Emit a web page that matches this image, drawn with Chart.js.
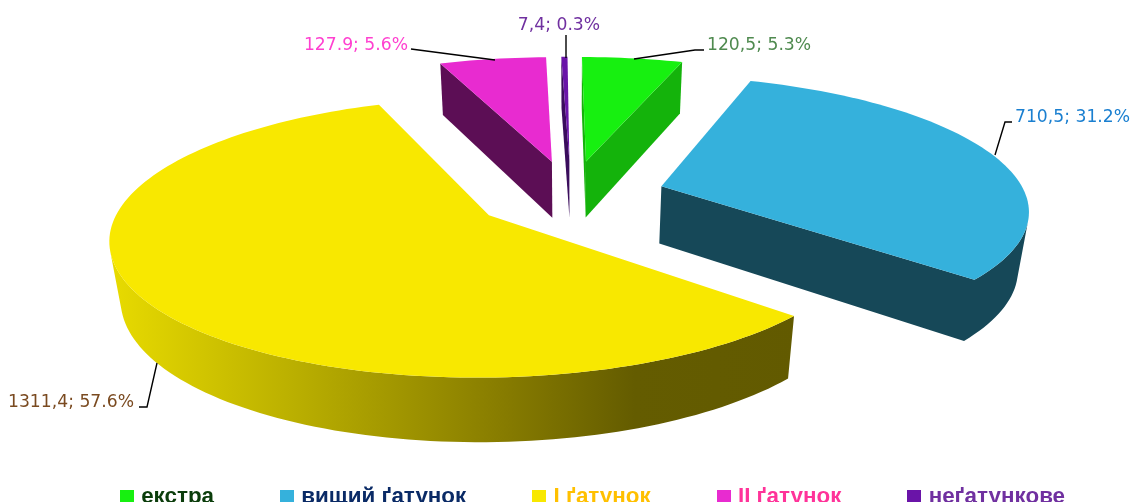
<!DOCTYPE html>
<html>
<head>
<meta charset="utf-8">
<style>html,body{margin:0;padding:0;background:#fff;overflow:hidden;width:1132px;height:502px}canvas{display:block}</style>
<script src="https://cdn.jsdelivr.net/npm/chart.js@4"></script>
</head>
<body>
<canvas id="c" width="1189" height="518"></canvas>
<script>
const categories = ['екстра', 'вищий ґатунок', 'І ґатунок', 'ІІ ґатунок', 'неґатункове'];
const values = [120.5, 710.5, 1311.4, 127.9, 7.4];
const valueLabels = ['120,5; 5.3%', '710,5; 31.2%', '1311,4; 57.6%', '127.9; 5.6%', '7,4; 0.3%'];
const topColors = ['#17f010', '#35b1dc', '#f8e800', '#e82bd0', '#6a14a8'];
const sideColors = ['#14b30b', '#164858', '#8a7e00', '#5c0e55', '#3a0d5c'];
const legendColors = ['#0b3d0b', '#0a2a66', '#ffc000', '#ff3399', '#7030a0'];
const labelColors = ['#4f8a4f', '#1a7fd0', '#7a4a20', '#ff40d0', '#7030a0'];
const explode = [0.27, 0.26, 0.27, 0.27, 0.27];

// projection of the pie plane (unit radius) to the page
const view = {cx: 571, cy: 194.7, a: 364, b: 130, s: 2.5, p: 0.155, h: 59, k: 0.024};
function project(U, V, z) {
  const w = 1 - view.p * V + view.k * z;
  return [view.cx + (view.a * U + view.s * V) / w, view.cy + (view.b * V + view.h * z) / w];
}
// label anchor and leader polylines
const labelLayout = [
  {x: 707, y: 45.5, align: 'left', line: [[634, 59], [695, 50], [704, 50]]},
  {x: 1015, y: 117.5, align: 'left', line: [[995, 155], [1005, 122], [1012, 122]]},
  {x: 8, y: 402.5, align: 'left', line: [[157, 363], [147, 407], [139, 407]]},
  {x: 408, y: 45.5, align: 'right', line: [[495, 60], [411, 49]]},
  {x: 559, y: 25.5, align: 'center', line: [[566, 35], [566, 58]]}
];
const drawOrder = [4, 3, 0, 1, 2];

function legendSwatch(color) {
  const cv = document.createElement('canvas');
  cv.width = 14; cv.height = 14;
  const g = cv.getContext('2d');
  g.fillStyle = color; g.fillRect(0, 0, 14, 14);
  return cv;
}

const pie3d = {
  id: 'pie3d',
  beforeDatasetDraw(chart, args) {
    const ctx = chart.ctx;
    const meta = chart.getDatasetMeta(args.index);
    const yellowGrad = ctx.createLinearGradient(110, 0, 800, 0);
    [[0, '#e8db00'], [0.28, '#b8ad00'], [0.58, '#857a00'], [0.76, '#645c00'], [1, '#625a00']]
      .forEach(s => yellowGrad.addColorStop(s[0], s[1]));
    for (const i of drawOrder) {
      const el = meta.data[i];
      const st = el.startAngle, en = el.endAngle, mid = (st + en) / 2;
      const ox = Math.cos(mid) * explode[i], oy = Math.sin(mid) * explode[i];
      const rim = [];
      const n = Math.max(2, Math.ceil((en - st) / (Math.PI / 120)));
      for (let j = 0; j <= n; j++) {
        const t = st + (en - st) * j / n;
        rim.push([ox + Math.cos(t), oy + Math.sin(t)]);
      }
      const loop = [[ox, oy]].concat(rim);
      ctx.save();
      ctx.fillStyle = i === 2 ? yellowGrad : sideColors[i];
      let upper = [], lower = [];
      const flush = () => {
        if (upper.length) {
          ctx.beginPath();
          upper.concat(lower.slice().reverse()).forEach((pt, m) => m ? ctx.lineTo(pt[0], pt[1]) : ctx.moveTo(pt[0], pt[1]));
          ctx.closePath(); ctx.fill();
        }
        upper = []; lower = [];
      };
      for (let j = 0; j < loop.length; j++) {
        const P = loop[j], Q = loop[(j + 1) % loop.length];
        const a = project(P[0], P[1], 0), b = project(Q[0], Q[1], 0);
        const c = project(Q[0], Q[1], 1), d = project(P[0], P[1], 1);
        const q = [a, b, c, d];
        let area = 0;
        for (let m = 0; m < 4; m++) {
          const A = q[m], B = q[(m + 1) % 4];
          area += A[0] * B[1] - B[0] * A[1];
        }
        if (area >= 0) { flush(); continue; }
        if (!upper.length) { upper.push(a); lower.push(d); }
        upper.push(b); lower.push(c);
      }
      flush();
      ctx.fillStyle = topColors[i];
      ctx.beginPath();
      loop.forEach((P, m) => {
        const pt = project(P[0], P[1], 0);
        m ? ctx.lineTo(pt[0], pt[1]) : ctx.moveTo(pt[0], pt[1]);
      });
      ctx.closePath(); ctx.fill();
      ctx.restore();
    }
    return false;
  },
  afterDatasetsDraw(chart) {
    const ctx = chart.ctx;
    ctx.save();
    ctx.font = '17.2px "DejaVu Sans"';
    ctx.textBaseline = 'middle';
    labelLayout.forEach((l, i) => {
      ctx.strokeStyle = '#000'; ctx.lineWidth = 1.4;
      ctx.beginPath();
      l.line.forEach((p, m) => m ? ctx.lineTo(p[0], p[1]) : ctx.moveTo(p[0], p[1]));
      ctx.stroke();
      ctx.fillStyle = labelColors[i];
      ctx.textAlign = l.align;
      ctx.fillText(valueLabels[i], l.x, l.y);
    });
    ctx.restore();
  }
};

new Chart(document.getElementById('c'), {
  type: 'pie',
  data: {labels: categories, datasets: [{data: values, backgroundColor: topColors, borderWidth: 0}]},
  plugins: [pie3d],
  options: {
    responsive: false,
    animation: false,
    plugins: {
      tooltip: {enabled: false},
      title: {display: false},
      legend: {
        position: 'bottom',
        labels: {
          usePointStyle: true, pointStyleWidth: 6, boxHeight: 14, padding: 70,
          font: {family: '"Liberation Sans"', size: 22.4, weight: 'bold'},
          generateLabels: () => categories.map((t, i) => ({
            text: t, fillStyle: topColors[i], strokeStyle: topColors[i], lineWidth: 0,
            pointStyle: legendSwatch(topColors[i]),
            fontColor: legendColors[i], index: i, hidden: false
          }))
        }
      }
    }
  }
});
</script>
</body>
</html>
